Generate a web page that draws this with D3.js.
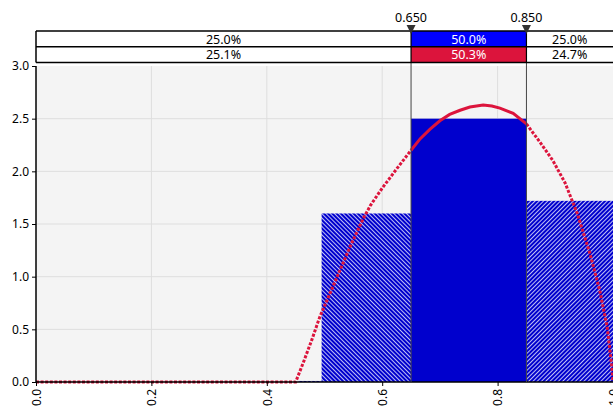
<!DOCTYPE html>
<html>
<head>
<meta charset="utf-8">
<script src="https://cdn.jsdelivr.net/npm/d3@7"></script>
<style>
  html, body { margin: 0; padding: 0; background: #fff; }
  svg { display: block; font-family: "Noto Sans", sans-serif; }
</style>
</head>
<body>
<svg id="chart" width="613" height="410"></svg>
<script>
// Histogram bins (density) and the fitted curve
const binEdges = [0.454, 0.495, 0.65, 0.85, 1.00];
const binHeights = [0.01, 1.60, 2.50, 1.72];
const binHatch = ["back", "back", "solid", "fwd"];

const curveX = [0.00, 0.45, 0.463, 0.478, 0.492, 0.522, 0.544, 0.567, 0.58, 0.60, 0.626, 0.65,
                0.666, 0.683, 0.70, 0.717, 0.735, 0.752, 0.775, 0.79, 0.804, 0.827, 0.85,
                0.873, 0.896, 0.917, 0.938, 0.96, 0.977, 0.99, 0.998, 1.00];
const curveY = [0.00, 0.00, 0.18, 0.40, 0.62, 1.00, 1.28, 1.55, 1.68, 1.84, 2.03, 2.20,
                2.31, 2.40, 2.48, 2.54, 2.58, 2.61, 2.63, 2.62, 2.60, 2.55, 2.45,
                2.28, 2.10, 1.89, 1.60, 1.22, 0.87, 0.52, 0.14, 0.00];

// Interval bounds and the two probability rows
const bounds = [0.65, 0.85];
const boundLabels = ["0.650", "0.850"];
const targetShares = ["25.0%", "50.0%", "25.0%"];
const fittedShares = ["25.1%", "50.3%", "24.7%"];

const xTicks = [0.0, 0.2, 0.4, 0.6, 0.8, 1.0];
const yTicks = [0.0, 0.5, 1.0, 1.5, 2.0, 2.5, 3.0];

const svg = d3.select("#chart");
const x = d3.scaleLinear().domain([0, 1]).range([36, 613]);
const y = d3.scaleLinear().domain([0, 3]).range([382, 66]);

const BLUE = "#0000cd";
const RED = "#dc143c";

// Hatch patterns
const defs = svg.append("defs");
function hatch(id, angle) {
  const p = defs.append("pattern")
    .attr("id", id).attr("patternUnits", "userSpaceOnUse")
    .attr("width", 3).attr("height", 3)
    .attr("patternTransform", `rotate(${angle})`);
  p.append("rect").attr("width", 3).attr("height", 3).attr("fill", BLUE);
  p.append("line").attr("x1", 1.5).attr("y1", 0).attr("x2", 1.5).attr("y2", 3)
    .attr("stroke", "#f0f0ff").attr("stroke-width", 0.8);
}
hatch("hatch-back", -45);
hatch("hatch-fwd", 45);

// Plot background
svg.append("rect")
  .attr("x", x(0)).attr("y", y(3))
  .attr("width", x(1) - x(0)).attr("height", y(0) - y(3))
  .attr("fill", "#f4f4f4");

// Grid
svg.append("g").selectAll("line").data(xTicks.slice(1, -1)).join("line")
  .attr("x1", d => x(d)).attr("x2", d => x(d))
  .attr("y1", y(0)).attr("y2", y(3))
  .attr("stroke", "#dedede").attr("stroke-width", 1);
svg.append("g").selectAll("line").data(yTicks.slice(1, -1)).join("line")
  .attr("x1", x(0)).attr("x2", x(1))
  .attr("y1", d => y(d)).attr("y2", d => y(d))
  .attr("stroke", "#dedede").attr("stroke-width", 1);

// Bars
const bins = binHeights.map((h, i) => ({ x0: binEdges[i], x1: binEdges[i + 1], h, kind: binHatch[i] }));
svg.append("g").selectAll("rect").data(bins).join("rect")
  .attr("x", d => x(d.x0))
  .attr("width", d => x(d.x1) - x(d.x0))
  .attr("y", d => y(d.h))
  .attr("height", d => Math.max(1, y(0) - y(d.h)))
  .attr("fill", d => d.kind === "solid" ? BLUE : `url(#hatch-${d.kind})`);

// Fitted curve: dotted outside the interval, solid inside
const pts = curveX.map((v, i) => [v, curveY[i]]);
const line = d3.line().x(d => x(d[0])).y(d => y(d[1]));
const inside = pts.filter(d => d[0] >= bounds[0] && d[0] <= bounds[1]);
const left = pts.filter(d => d[0] <= bounds[0]);
const right = pts.filter(d => d[0] >= bounds[1]);
[left, right].forEach(seg => {
  svg.append("path").attr("d", line(seg))
    .attr("fill", "none").attr("stroke", RED)
    .attr("stroke-width", 3).attr("stroke-dasharray", "3,1.6");
});
svg.append("path").attr("d", line(inside))
  .attr("fill", "none").attr("stroke", RED).attr("stroke-width", 3);

// Axes
const yAxis = svg.append("g").attr("transform", `translate(${x(0)},0)`)
  .call(d3.axisLeft(y).tickValues(yTicks).tickFormat(d3.format(".1f")).tickSize(4).tickPadding(3));
const xAxis = svg.append("g").attr("transform", `translate(0,${y(0)})`)
  .call(d3.axisBottom(x).tickValues(xTicks).tickFormat(d3.format(".1f")).tickSize(4));
[yAxis, xAxis].forEach(g => {
  g.select(".domain").attr("stroke", "#000").attr("stroke-width", 1.5);
  g.selectAll(".tick line").attr("stroke", "#000");
  g.selectAll("text").attr("fill", "#000").attr("font-size", 12).attr("font-family", "Noto Sans, sans-serif");
});
yAxis.select(".domain").attr("d", `M0,${y(0)}V${y(3)}`);
xAxis.select(".domain").attr("d", `M${x(0)},0H${x(1)}`);
xAxis.selectAll(".tick text")
  .attr("transform", "rotate(-90)")
  .attr("text-anchor", "end")
  .attr("x", -7).attr("y", 0).attr("dy", "0.35em");

// Interval bound lines
const tableTop = 31, rowH = 15.7;
svg.append("g").selectAll("line").data(bounds).join("line")
  .attr("x1", d => x(d)).attr("x2", d => x(d))
  .attr("y1", tableTop).attr("y2", y(0))
  .attr("stroke", "#444").attr("stroke-width", 1);

// Probability table
const segs = [[0, bounds[0]], [bounds[0], bounds[1]], [bounds[1], 1]];
const rows = [
  { labels: targetShares, mid: "#0000ff" },
  { labels: fittedShares, mid: RED }
];
rows.forEach((r, ri) => {
  const top = tableTop + ri * rowH;
  const g = svg.append("g");
  g.selectAll("rect").data(segs).join("rect")
    .attr("x", d => x(d[0])).attr("width", d => x(d[1]) - x(d[0]) + (d[1] === 1 ? 2 : 0))
    .attr("y", top).attr("height", rowH)
    .attr("fill", (d, i) => i === 1 ? r.mid : "#fff");
  g.selectAll("text").data(segs).join("text")
    .attr("x", d => (x(d[0]) + x(d[1])) / 2)
    .attr("y", top + rowH / 2 + 0.5)
    .attr("dy", "0.35em")
    .attr("text-anchor", "middle")
    .attr("font-size", 12.5)
    .attr("fill", (d, i) => i === 1 ? "#fff" : "#000")
    .text((d, i) => r.labels[i]);
});
// Table rules
const tg = svg.append("g").attr("stroke", "#000").attr("stroke-width", 1.5);
[0, 1, 2].forEach(i => {
  tg.append("line").attr("x1", x(0)).attr("x2", 613)
    .attr("y1", tableTop + i * rowH).attr("y2", tableTop + i * rowH);
});
tg.append("line").attr("x1", x(0)).attr("x2", x(0))
  .attr("y1", tableTop).attr("y2", tableTop + 2 * rowH);
svg.append("g").selectAll("line").data(bounds).join("line")
  .attr("x1", d => x(d)).attr("x2", d => x(d))
  .attr("y1", tableTop).attr("y2", tableTop + 2 * rowH)
  .attr("stroke", "#000").attr("stroke-width", 1.2);

// Bound markers and labels
svg.append("g").selectAll("path").data(bounds).join("path")
  .attr("d", d => `M${x(d) - 4.5},${tableTop - 6}L${x(d) + 4.5},${tableTop - 6}L${x(d)},${tableTop + 3}Z`)
  .attr("fill", "#333");
svg.append("g").selectAll("text").data(bounds).join("text")
  .attr("x", d => x(d)).attr("y", 22)
  .attr("text-anchor", "middle").attr("font-size", 12.5).attr("fill", "#000")
  .text((d, i) => boundLabels[i]);
</script>
</body>
</html>
